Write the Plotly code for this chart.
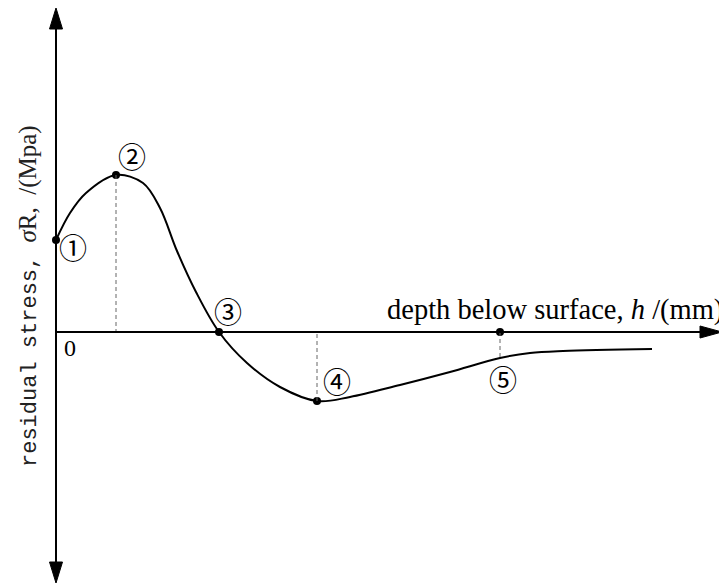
import plotly.graph_objects as go

# curve of residual stress vs depth (x in mm-like units, y in MPa-like units)
depth = [0, 0.14, 0.30, 0.60, 0.87, 1.04, 1.21, 1.40, 1.63,
         1.91, 2.24, 2.61, 2.94, 3.44, 3.94, 4.44, 4.74, 5.07, 5.96]
stress = [92, 119, 139, 157, 149, 124, 81, 40, 0,
          -31, -55, -69, -65, -53, -40, -26, -21, -19, -17]

# marked points
pt_labels = ["①", "②", "③", "④", "⑤"]
pt_x = [0, 0.60, 1.63, 2.61, 4.44]
pt_y = [92, 157, 0, -69, 0]
# label offsets in pixels
lab_dx = [17, 16, 9, 20, 3]
lab_dy = [-9, 17, 19, 18, -49]

# dashed guides: (x, y_from, y_to)
guides = [(0.60, 157, -3), (2.61, -69, 0), (4.44, 0, -26)]

# axis extent
x_end = 6.66
y_top, y_bot = 324, -251

SERIF = "Liberation Serif, Times New Roman, DejaVu Serif, Noto Sans CJK SC"

fig = go.Figure()
fig.add_trace(go.Scatter(x=depth, y=stress, mode="lines",
                         line=dict(color="black", width=2, shape="spline", smoothing=1),
                         hoverinfo="skip"))
fig.add_trace(go.Scatter(x=pt_x, y=pt_y, mode="markers",
                         marker=dict(color="black", size=8), hoverinfo="skip"))

shapes = []
for gx, y0, y1 in guides:
    shapes.append(dict(type="line", x0=gx, x1=gx, y0=y0, y1=y1, xref="x", yref="y",
                       line=dict(color="#666", width=1, dash="4px,3px")))
# axes lines
shapes.append(dict(type="line", x0=0, x1=0, y0=y_bot + 10, y1=y_top - 10,
                   line=dict(color="black", width=2)))
shapes.append(dict(type="line", x0=0, x1=x_end - 0.1, y0=0, y1=0,
                   line=dict(color="black", width=2)))
# arrowheads (pixel-sized, anchored at axis tips)
heads = [(0, y_top, "M0,0 L-6.5,-21 L6.5,-21 Z"),
         (0, y_bot, "M0,0 L-6.5,21 L6.5,21 Z"),
         (x_end, 0, "M0,0 L-22,6 L-22,-6 Z")]
for hx, hy, p in heads:
    shapes.append(dict(type="path", path=p, xref="x", yref="y",
                       xsizemode="pixel", ysizemode="pixel", xanchor=hx, yanchor=hy,
                       fillcolor="black", line=dict(color="black", width=1)))

ann = []
for lab, x, y, dx, dy in zip(pt_labels, pt_x, pt_y, lab_dx, lab_dy):
    ann.append(dict(x=x, y=y, text=lab, showarrow=False, xshift=dx, yshift=dy,
                    font=dict(family=SERIF, size=28, color="black")))
ann.append(dict(x=6.69, y=22, text="depth below surface, <i>h</i> /(mm)", showarrow=False,
                xanchor="right", yanchor="middle",
                font=dict(family=SERIF, size=28.5, color="black")))
ann.append(dict(x=0.14, y=-16, text="0", showarrow=False,
                font=dict(family=SERIF, size=24, color="black")))
ann.append(dict(x=-0.28, y=36, textangle=-90, showarrow=False,
                text="<span style='font-family:Liberation Mono;font-size:22px'>"
                     "residual stress,\u00a0</span>"
                     "<i>σ</i>R,\u00a0\u00a0/(Mpa)",
                font=dict(family=SERIF, size=25, color="#222")))

fig.update_layout(
    width=719, height=578,
    margin=dict(l=0, r=0, t=0, b=0),
    paper_bgcolor="white", plot_bgcolor="white",
    showlegend=False,
    xaxis=dict(range=[-0.48, 6.71], visible=False, fixedrange=True),
    yaxis=dict(range=[-254, 324], visible=False, fixedrange=True),
    shapes=shapes, annotations=ann,
)

fig.write_html("out.html")
